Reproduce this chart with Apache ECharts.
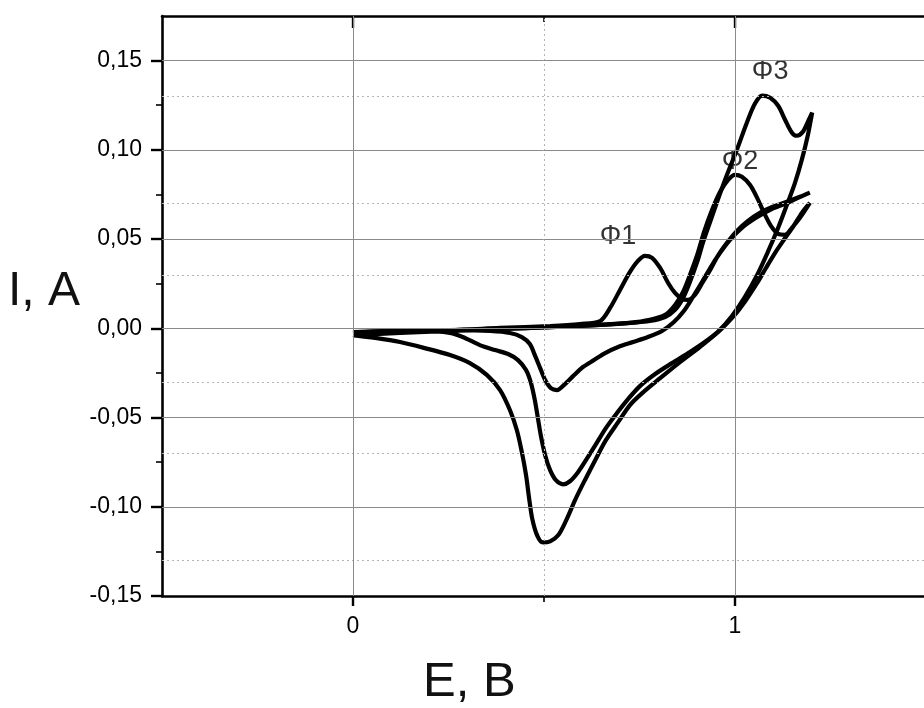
<!DOCTYPE html>
<html>
<head>
<meta charset="utf-8">
<script src="https://cdn.jsdelivr.net/npm/echarts@6/dist/echarts.min.js"></script>
<style>
  html, body { margin: 0; padding: 0; background: #fff; }
  #chart { width: 924px; height: 708px; }
</style>
</head>
<body>
<div id="chart"></div>
<script>
// Cyclic voltammograms: potential E (V) against current I (A), three scans.
// Each scan runs forward 0 -> 1.2 V and then back to 0 V.

const scan1 = [
  [0, -0.0026], [0.123, -0.0015], [0.254, -0.0010], [0.385, 0.0002], [0.516, 0.0013],
  [0.594, 0.0024], [0.647, 0.0041], [0.673, 0.0114], [0.699, 0.0215], [0.725, 0.0316],
  [0.746, 0.0378], [0.764, 0.0406], [0.783, 0.0395], [0.804, 0.0338], [0.825, 0.0254],
  [0.843, 0.0198], [0.861, 0.0164], [0.877, 0.0159], [0.895, 0.0187], [0.916, 0.0260],
  [0.935, 0.0327], [0.955, 0.0406], [0.979, 0.0479], [1.005, 0.0546], [1.034, 0.0602],
  [1.065, 0.0647], [1.099, 0.0681], [1.136, 0.0709], [1.170, 0.0737], [1.196, 0.0760],
  // return sweep
  [1.165, 0.0731], [1.131, 0.0698], [1.092, 0.0664], [1.055, 0.0619], [1.018, 0.0563],
  [0.987, 0.0496], [0.961, 0.0423], [0.935, 0.0338], [0.914, 0.0260], [0.890, 0.0176],
  [0.866, 0.0097], [0.840, 0.0035], [0.809, -0.0015], [0.772, -0.0049], [0.733, -0.0077],
  [0.694, -0.0105], [0.660, -0.0139], [0.631, -0.0178], [0.602, -0.0217], [0.576, -0.0268],
  [0.552, -0.0318], [0.534, -0.0346], [0.518, -0.0335], [0.503, -0.0290], [0.490, -0.0223],
  [0.476, -0.0150], [0.463, -0.0088], [0.442, -0.0049], [0.411, -0.0026], [0.359, -0.0015],
  [0.280, -0.0010], [0.175, -0.0010], [0.097, -0.0015], [0, -0.0021]
];

const scan2 = [
  [0, -0.0038], [0.123, -0.0026], [0.254, -0.0015], [0.385, -0.0004], [0.516, 0.0007],
  [0.647, 0.0019], [0.725, 0.0030], [0.777, 0.0047], [0.817, 0.0075], [0.843, 0.0131],
  [0.864, 0.0204], [0.882, 0.0299], [0.901, 0.0411], [0.919, 0.0540], [0.940, 0.0664],
  [0.961, 0.0765], [0.982, 0.0832], [1.000, 0.0860], [1.018, 0.0849], [1.039, 0.0804],
  [1.058, 0.0731], [1.076, 0.0647], [1.094, 0.0574], [1.113, 0.0529], [1.131, 0.0524],
  [1.149, 0.0563], [1.170, 0.0619], [1.196, 0.0703],
  // return sweep
  [1.175, 0.0647], [1.152, 0.0569], [1.128, 0.0496], [1.105, 0.0423], [1.081, 0.0338],
  [1.058, 0.0254], [1.029, 0.0159], [0.997, 0.0069], [0.961, -0.0010], [0.921, -0.0077],
  [0.882, -0.0133], [0.835, -0.0195], [0.791, -0.0256], [0.751, -0.0324], [0.720, -0.0397],
  [0.691, -0.0475], [0.662, -0.0559], [0.636, -0.0649], [0.613, -0.0728], [0.589, -0.0806],
  [0.568, -0.0857], [0.550, -0.0874], [0.531, -0.0851], [0.516, -0.0795], [0.503, -0.0711],
  [0.492, -0.0604], [0.484, -0.0503], [0.476, -0.0402], [0.466, -0.0307], [0.453, -0.0234],
  [0.432, -0.0178], [0.406, -0.0144], [0.372, -0.0122], [0.332, -0.0094], [0.293, -0.0054],
  [0.254, -0.0026], [0.175, -0.0015], [0.097, -0.0015], [0, -0.0026]
];

const scan3 = [
  [0, -0.0032], [0.123, -0.0021], [0.254, -0.0010], [0.385, -0.0004], [0.516, 0.0007],
  [0.647, 0.0019], [0.725, 0.0030], [0.777, 0.0041], [0.817, 0.0063], [0.843, 0.0103],
  [0.864, 0.0170], [0.882, 0.0260], [0.901, 0.0372], [0.916, 0.0479], [0.935, 0.0597],
  [0.955, 0.0720], [0.979, 0.0860], [1.005, 0.1001], [1.031, 0.1152], [1.052, 0.1258],
  [1.071, 0.1304], [1.092, 0.1292], [1.113, 0.1247], [1.131, 0.1169], [1.149, 0.1096],
  [1.162, 0.1079], [1.178, 0.1102], [1.191, 0.1158], [1.202, 0.1208],
  // return sweep
  [1.191, 0.1085], [1.175, 0.0945], [1.157, 0.0815], [1.136, 0.0692], [1.113, 0.0563],
  [1.086, 0.0428], [1.058, 0.0299], [1.026, 0.0176], [0.992, 0.0069], [0.955, -0.0021],
  [0.908, -0.0105], [0.856, -0.0189], [0.804, -0.0279], [0.757, -0.0363], [0.725, -0.0430],
  [0.694, -0.0526], [0.662, -0.0627], [0.634, -0.0739], [0.607, -0.0851], [0.581, -0.0964],
  [0.558, -0.1076], [0.537, -0.1160], [0.516, -0.1194], [0.497, -0.1200], [0.482, -0.1160],
  [0.469, -0.1065], [0.461, -0.0952], [0.453, -0.0823], [0.442, -0.0694], [0.429, -0.0571],
  [0.411, -0.0459], [0.385, -0.0346], [0.351, -0.0262], [0.306, -0.0195], [0.254, -0.0150],
  [0.188, -0.0111], [0.123, -0.0077], [0.058, -0.0054], [0, -0.0038]
];

// Peak annotations [E, I, text]
const peakLabels = [
  [0.694, 0.0512, 'Φ1'],
  [1.013, 0.0933, 'Φ2'],
  [1.092, 0.1438, 'Φ3']
];

const xMajorTicks = [0, 1];
const xMinorTicks = [0.5];
const yMajorTicks = [-0.15, -0.10, -0.05, 0, 0.05, 0.10, 0.15];
const yMinorTicks = [-0.125, -0.075, -0.025, 0.025, 0.075, 0.125];

const FONT = '"Liberation Sans", Arial, sans-serif';
const X_RANGE = [-0.5, 1.5];
const Y_RANGE = [-0.15, 0.175];

const fmtComma = v => (Math.abs(v) < 1e-9 ? 0 : v).toFixed(2).replace('.', ',');

function xAxisBase(position, extra) {
  return Object.assign({
    type: 'value', position: position, min: X_RANGE[0], max: X_RANGE[1], interval: 0.5,
    axisLine: { show: false, onZero: false },
    axisTick: { show: false },
    axisLabel: { show: false },
    splitLine: { show: false }
  }, extra);
}
function yAxisBase(position, extra) {
  return Object.assign({
    type: 'value', position: position, min: Y_RANGE[0], max: Y_RANGE[1], interval: 0.025,
    axisLine: { show: false, onZero: false },
    axisTick: { show: false },
    axisLabel: { show: false },
    splitLine: { show: false }
  }, extra);
}

const axisLineStyle = { color: '#000', width: 2.6 };

const scanSeries = [scan1, scan2, scan3].map((d, i) => ({
  name: 'scan' + (i + 1),
  type: 'line',
  data: d,
  showSymbol: false,
  smooth: 0.3,
  lineStyle: { color: '#000', width: 4.2 },
  z: 3
}));

const chart = echarts.init(document.getElementById('chart'), null, { renderer: 'canvas' });

chart.setOption({
  animation: false,
  backgroundColor: '#fff',
  grid: {
    left: 162, top: 16, width: 764, height: 580,
    containLabel: false, outerBoundsMode: 'none'
  },
  xAxis: [
    // bottom axis, major ticks and labels
    xAxisBase('bottom', {
      axisLine: { show: true, onZero: false, lineStyle: axisLineStyle },
      axisTick: { show: true, length: 10, inside: false, customValues: xMajorTicks,
                  lineStyle: { color: '#000', width: 2.4 } },
      axisLabel: { show: true, customValues: xMajorTicks, margin: 19,
                   fontFamily: FONT, fontSize: 23, color: '#000',
                   formatter: v => String(Math.round(v)) }
    }),
    // bottom axis, minor ticks
    xAxisBase('bottom', {
      axisTick: { show: true, length: 6, inside: false, customValues: xMinorTicks,
                  lineStyle: { color: '#000', width: 1.6 } }
    }),
    // top frame with inward ticks
    xAxisBase('top', {
      axisLine: { show: true, onZero: false, lineStyle: axisLineStyle },
      axisTick: { show: true, length: 12, inside: true, customValues: xMajorTicks,
                  lineStyle: { color: '#000', width: 2.4 } }
    }),
    xAxisBase('top', {
      axisTick: { show: true, length: 6, inside: true, customValues: xMinorTicks,
                  lineStyle: { color: '#000', width: 1.6 } }
    })
  ],
  yAxis: [
    yAxisBase('left', {
      axisLine: { show: true, onZero: false, lineStyle: axisLineStyle },
      axisTick: { show: true, length: 11, inside: false, customValues: yMajorTicks,
                  lineStyle: { color: '#000', width: 2.4 } },
      axisLabel: { show: true, customValues: yMajorTicks, margin: 20,
                   fontFamily: FONT, fontSize: 23, color: '#000',
                   formatter: fmtComma }
    }),
    yAxisBase('left', {
      axisTick: { show: true, length: 6, inside: false, customValues: yMinorTicks,
                  lineStyle: { color: '#000', width: 1.6 } }
    })
  ],
  graphic: [
    { type: 'text', left: 8, top: 268,
      style: { text: 'I, A', fontFamily: FONT, fontSize: 48, fill: '#111' } },
    { type: 'text', left: 423, top: 658,
      style: { text: 'E, B', fontFamily: FONT, fontSize: 49, fill: '#111' } }
  ],
  series: [
    // minor grid (dotted)
    {
      type: 'line', data: [], silent: true, z: 1,
      markLine: {
        silent: true, symbol: 'none', label: { show: false },
        lineStyle: { color: '#b4b4b4', width: 1, type: [2, 3] },
        data: yMinorTicks.map(v => ({ yAxis: v }))
          .concat(xMinorTicks.map(v => ({ xAxis: v })))
      }
    },
    // major grid (solid)
    {
      type: 'line', data: [], silent: true, z: 1,
      markLine: {
        silent: true, symbol: 'none', label: { show: false },
        lineStyle: { color: '#8a8a8a', width: 1, type: 'solid' },
        data: yMajorTicks.filter(v => v > Y_RANGE[0]).map(v => ({ yAxis: v }))
          .concat(xMajorTicks.map(v => ({ xAxis: v })))
      }
    },
    ...scanSeries,
    {
      type: 'scatter',
      data: peakLabels,
      symbolSize: 1,
      itemStyle: { color: 'rgba(0,0,0,0)' },
      silent: true,
      z: 4,
      label: {
        show: true, position: 'inside',
        formatter: p => p.data[2],
        fontFamily: FONT, fontSize: 27, color: '#000'
      }
    }
  ]
});
</script>
</body>
</html>
